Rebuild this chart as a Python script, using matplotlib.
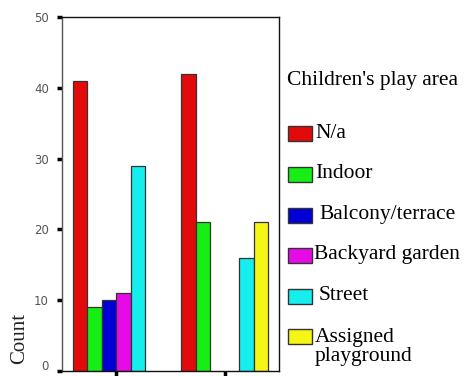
import matplotlib
matplotlib.use("Agg")
import matplotlib.pyplot as plt
import matplotlib.transforms as mtransforms
from matplotlib.patches import Rectangle
import numpy as np

groups = ["Group 1", "Group 2"]
series = ["N/a", "Indoor", "Balcony/terrace", "Backyard garden", "Street", "Assigned\nplayground"]
values = {
    "N/a": [41, 42],
    "Indoor": [9, 21],
    "Balcony/terrace": [10, 0],
    "Backyard garden": [11, 0],
    "Street": [29, 16],
    "Assigned\nplayground": [0, 21],
}
colors = ["#e20a0a", "#16ee16", "#0000d6", "#e60ae6", "#16eeee", "#f6f616"]
yticks = [0, 10, 20, 30, 40, 50]

fig = plt.figure(figsize=(4.7, 3.76), dpi=100)
ax = fig.add_axes([62/470, 5/376, (279-62)/470, (371-17)/376])

x = np.arange(len(groups))
n = len(series)
w = 0.8 / n
for i, (s, c) in enumerate(zip(series, colors)):
    vals = values[s]
    pos = x - 0.4 + w * (i + 0.5)
    for p, v in zip(pos, vals):
        if v > 0:
            ax.bar(p, v, width=w, color=c, edgecolor="#333333", linewidth=0.9)

ax.set_xlim(-0.5, 1.5)
ax.set_ylim(0, 50)
ax.set_yticks(yticks)
ax.set_yticklabels([str(t) for t in yticks], fontsize=8.5, color="#555555", family="DejaVu Sans")
ax.set_xticks(x)
ax.set_xticklabels(["", ""])
ax.tick_params(axis="both", direction="out", length=3.5, width=2.5, color="black", pad=6)
for sp in ax.spines.values():
    sp.set_linewidth(1.0)
    sp.set_color("#111111")
ax.spines["left"].set_color("#555555")

# lift the "0" label slightly so it stays inside the figure
lbl0 = ax.get_yticklabels()[0]
lbl0.set_transform(lbl0.get_transform() + mtransforms.ScaledTranslation(0, 6/100, fig.dpi_scale_trans))

fig.text(20/470, 1 - 338/376, "Count", rotation=90, ha="center", va="center",
         fontsize=15, family="Liberation Serif", color="#222222")

fig.text(287/470, 1 - 80/376, "Children's play area", ha="left", va="center",
         fontsize=15.5, family="Liberation Serif", color="black")

ycent = [133, 174, 215, 255, 296, 336]
xtext = [315, 315, 319, 314, 319, 315]
for s, c, yc, xt in zip(series, colors, ycent, xtext):
    fig.patches.append(Rectangle((288/470, 1 - (yc + 7.5)/376), 24/470, 15/376,
                                 transform=fig.transFigure, facecolor=c,
                                 edgecolor="#333333", linewidth=1.0))
    if "\n" in s:
        fig.text(xt/470, 1 - (yc + 11)/376, s, ha="left", va="center",
                 fontsize=15.5, family="Liberation Serif", color="black", linespacing=1.0)
    else:
        fig.text(xt/470, 1 - yc/376, s, ha="left", va="center",
                 fontsize=15.5, family="Liberation Serif", color="black")

fig.savefig("out.png", dpi=100)
